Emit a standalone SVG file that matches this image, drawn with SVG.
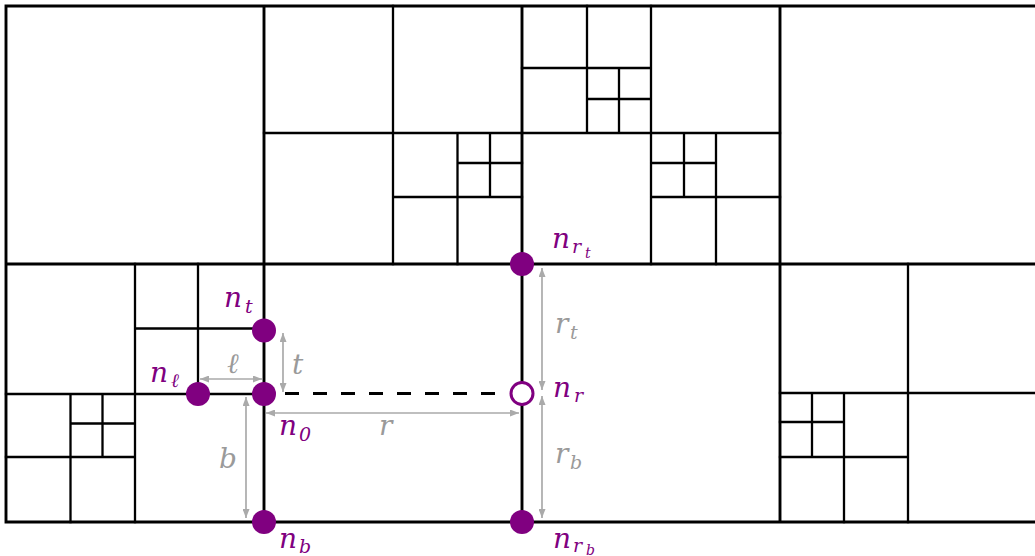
<svg xmlns="http://www.w3.org/2000/svg" width="1035" height="556" viewBox="0 0 1035 556">
<style>
.m{stroke:#000;stroke-width:2.9;fill:none;stroke-linecap:square}
.s{stroke:#000;stroke-width:2.3;fill:none;stroke-linecap:square}
.dash{stroke:#000;stroke-width:2.8;stroke-dasharray:14 14;fill:none}
.arr{stroke:#aaaaaa;stroke-width:1.7;fill:none;marker-start:url(#ah);marker-end:url(#ah)}
.pt{fill:#800080}
.ho{fill:#fff;stroke:#800080;stroke-width:3}
.lb{font-family:"DejaVu Serif",serif;font-style:italic;fill:#800080}
.dm{font-family:"DejaVu Serif",serif;font-style:italic;fill:#9a9a9a}
.big{font-size:28px}
.sub{font-size:19px}
.ss{font-size:14px}
</style>
<defs>
<marker id="ah" viewBox="0 0 9 7" refX="9" refY="3.5" markerWidth="9" markerHeight="7" markerUnits="userSpaceOnUse" orient="auto-start-reverse">
<path d="M0,0 L9,3.5 L0,7 z" fill="#aaaaaa"/>
</marker>
</defs>
<rect width="1035" height="556" fill="#fff"/>
<g id="grid">
<path class="m" d="M6,6 H1036 M6,264 H1036 M6,522 H1036 M6,6 V522 M264,6 V522 M522,6 V522 M780,6 V522"/>
<path class="s" d="M393,6 V264 M264,133 H522 M457.5,133 V264 M393,197 H522 M490,133 V197 M457.5,163 H522"/>
<path class="s" d="M651,6 V264 M522,133 H780 M587,6 V133 M522,68 H651 M619,68 V133 M587,99 H651 M716,133 V264 M651,197 H780 M684,133 V197 M651,163 H716"/>
<path class="s" d="M135,264 V522 M6,394 H264 M198,264 V394 M135,328.5 H264 M70.5,394 V522 M6,457 H135 M102.5,394 V457 M70.5,423.5 H135"/>
<path class="s" d="M908,264 V522 M780,393 H1036 M844,393 V522 M780,457 H908 M812,393 V457 M780,422 H844"/>
</g>
<g id="connectors">
<line class="dash" x1="285" y1="393.5" x2="497" y2="393.5"/>
<line class="arr" x1="200" y1="379" x2="262" y2="379"/>
<line class="arr" x1="283" y1="333" x2="283" y2="392"/>
<line class="arr" x1="246" y1="397" x2="246" y2="518"/>
<line class="arr" x1="266" y1="413" x2="519" y2="413"/>
<line class="arr" x1="542" y1="268" x2="542" y2="390"/>
<line class="arr" x1="542" y1="396" x2="542" y2="518"/>
</g>
<g id="labels-dim">
<text class="dm big" x="227" y="373">ℓ</text>
<text class="dm big" x="292" y="374">t</text>
<text class="dm big" x="219" y="468">b</text>
<text class="dm big" x="379" y="435">r</text>
<text class="dm"><tspan class="big" x="555" y="333">r</tspan><tspan class="sub" x="570" y="339">t</tspan></text>
<text class="dm"><tspan class="big" x="555" y="463">r</tspan><tspan class="sub" x="570" y="469">b</tspan></text>
</g>
<g id="n_t"><circle class="pt" cx="264" cy="330.5" r="12"/><text class="lb"><tspan class="big" x="224" y="307">n</tspan><tspan class="sub" x="245" y="313">t</tspan></text></g>
<g id="n_l"><circle class="pt" cx="198" cy="394" r="12"/><text class="lb"><tspan class="big" x="150" y="382">n</tspan><tspan class="sub" x="171" y="387">ℓ</tspan></text></g>
<g id="n_0"><circle class="pt" cx="264" cy="394" r="12"/><text class="lb"><tspan class="big" x="279" y="435">n</tspan><tspan class="sub" x="299" y="441">0</tspan></text></g>
<g id="n_b"><circle class="pt" cx="264" cy="522" r="12"/><text class="lb"><tspan class="big" x="279" y="548">n</tspan><tspan class="sub" x="299" y="553">b</tspan></text></g>
<g id="n_r"><circle class="ho" cx="522" cy="393.5" r="11"/><text class="lb"><tspan class="big" x="553" y="397">n</tspan><tspan class="sub" x="574" y="402">r</tspan></text></g>
<g id="n_rt"><circle class="pt" cx="522" cy="264" r="12"/><text class="lb"><tspan class="big" x="552" y="248">n</tspan><tspan class="sub" x="572" y="253">r</tspan><tspan class="ss" x="585" y="258">t</tspan></text></g>
<g id="n_rb"><circle class="pt" cx="522" cy="522" r="12"/><text class="lb"><tspan class="big" x="553" y="548">n</tspan><tspan class="sub" x="573" y="552">r</tspan><tspan class="ss" x="586" y="555">b</tspan></text></g>
</svg>
